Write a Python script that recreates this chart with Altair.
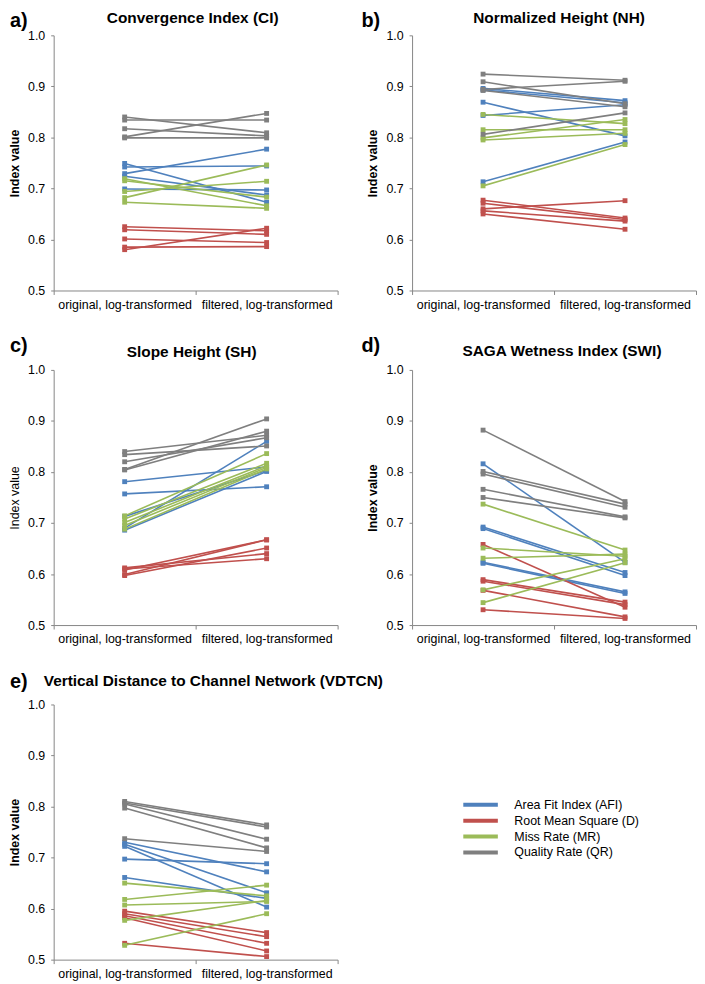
import altair as alt
import pandas as pd

STAGES = ["original, log-transformed", "filtered, log-transformed"]
SERIES = ["Area Fit Index (AFI)", "Root Mean Square (D)", "Miss Rate (MR)", "Quality Rate (QR)"]
COLORS = ["#4F81BD", "#C0504D", "#9BBB59", "#7F7F7F"]
Y_TICKS = [0.5, 0.6, 0.7, 0.8, 0.9, 1.0]

LETTERS = ["a)", "b)", "c)", "d)", "e)"]
TITLES = ["Convergence Index (CI)", "Normalized Height (NH)", "Slope Height (SH)",
          "SAGA Wetness Index (SWI)", "Vertical Distance to Channel Network (VDTCN)"]

# (original, filtered) pairs for each line
CI_AFI = [(0.749, 0.673), (0.742, 0.744), (0.729, 0.777), (0.724, 0.687), (0.699, 0.697)]
CI_D = [(0.625, 0.617), (0.619, 0.610), (0.601, 0.594), (0.585, 0.586), (0.580, 0.622)]
CI_MR = [(0.719, 0.666), (0.715, 0.683), (0.694, 0.714), (0.682, 0.746), (0.673, 0.661)]
CI_QR = [(0.840, 0.809), (0.834, 0.834), (0.817, 0.803), (0.801, 0.847), (0.799, 0.799)]

NH_AFI = [(0.896, 0.872), (0.893, 0.868), (0.869, 0.803), (0.843, 0.864), (0.713, 0.791)]
NH_D = [(0.677, 0.642), (0.671, 0.639), (0.660, 0.676), (0.656, 0.636), (0.650, 0.620)]
NH_MR = [(0.845, 0.827), (0.815, 0.815), (0.799, 0.835), (0.795, 0.808), (0.705, 0.786)]
NH_QR = [(0.924, 0.912), (0.909, 0.866), (0.894, 0.910), (0.892, 0.860), (0.806, 0.848)]

SH_AFI = [(0.781, 0.810), (0.757, 0.771), (0.713, 0.803), (0.690, 0.860), (0.686, 0.801)]
SH_D = [(0.612, 0.640), (0.610, 0.630), (0.608, 0.667), (0.599, 0.667), (0.597, 0.651)]
SH_MR = [(0.714, 0.836), (0.708, 0.817), (0.701, 0.812), (0.695, 0.809), (0.688, 0.806)]
SH_QR = [(0.840, 0.872), (0.834, 0.851), (0.820, 0.867), (0.805, 0.904), (0.804, 0.880)]

SWI_AFI = [(0.816, 0.623), (0.692, 0.603), (0.689, 0.597), (0.623, 0.565), (0.621, 0.562)]
SWI_D = [(0.658, 0.535), (0.589, 0.545), (0.586, 0.540), (0.568, 0.516), (0.530, 0.513)]
SWI_MR = [(0.737, 0.647), (0.651, 0.635), (0.631, 0.639), (0.569, 0.630), (0.544, 0.622)]
SWI_QR = [(0.882, 0.742), (0.801, 0.737), (0.796, 0.731), (0.766, 0.712), (0.750, 0.710)]

VD_AFI = [(0.730, 0.672), (0.726, 0.631), (0.722, 0.603), (0.697, 0.688), (0.661, 0.620)]
VD_D = [(0.595, 0.553), (0.590, 0.545), (0.586, 0.532), (0.582, 0.517), (0.532, 0.506)]
VD_MR = [(0.650, 0.625), (0.618, 0.646), (0.607, 0.614), (0.577, 0.616), (0.528, 0.590)]
VD_QR = [(0.810, 0.764), (0.807, 0.760), (0.805, 0.736), (0.797, 0.719), (0.737, 0.712)]

PANEL_DATA = [
    [CI_AFI, CI_D, CI_MR, CI_QR],
    [NH_AFI, NH_D, NH_MR, NH_QR],
    [SH_AFI, SH_D, SH_MR, SH_QR],
    [SWI_AFI, SWI_D, SWI_MR, SWI_QR],
    [VD_AFI, VD_D, VD_MR, VD_QR],
]

FONT = "Liberation Sans"
W, H = 286, 257

# per-panel layout tweaks (pixels relative to the plot's top-left corner)
TITLE_X = [140, 148, 139, 151, -10]
TITLE_Y = [-17, -17, -18, -19, -24]
TITLE_ALIGN = ["center", "center", "center", "center", "left"]
LETTER_X = [-44, -51, -44, -51, -44]
LETTER_Y = [-14, -14, -24, -24, -23]
YTITLE_BOLD = [True, True, False, True, True]


def make_df(groups):
    rows = []
    for s_name, pairs in zip(SERIES, groups):
        for i, (o, f) in enumerate(pairs):
            lid = f"{s_name}-{i}"
            rows.append({"series": s_name, "line": lid, "stage": STAGES[0], "value": o})
            rows.append({"series": s_name, "line": lid, "stage": STAGES[1], "value": f})
    return pd.DataFrame(rows)


def panel(k):
    df = make_df(PANEL_DATA[k])
    x = alt.X("stage:N", sort=STAGES,
              scale=alt.Scale(type="band", paddingInner=0, paddingOuter=0),
              axis=alt.Axis(title=None, labelAngle=0, tickBand="extent", tickSize=4,
                            labelPadding=4, labelFontSize=12.5, labelLimit=300))
    y = alt.Y("value:Q", scale=alt.Scale(domain=[0.5, 1.0], nice=False, zero=False),
              axis=alt.Axis(values=Y_TICKS, format=".1f", title="Index value",
                            titleFontSize=12.5,
                            titleFontWeight="bold" if YTITLE_BOLD[k] else "normal",
                            tickSize=3, labelPadding=6, labelFontSize=12.5, titlePadding=6))
    if k == 4:
        leg = alt.Legend(title=None, orient="none", legendX=422, legendY=93,
                         symbolType="M-2.9,0H2.9", symbolSize=144, symbolStrokeWidth=4,
                         labelFontSize=12.5, labelFont=FONT, labelColor="#000",
                         labelOffset=26, rowPadding=-3, padding=0)
    else:
        leg = None
    color_line = alt.Color("series:N", scale=alt.Scale(domain=SERIES, range=COLORS), legend=leg)
    color_pt = alt.Color("series:N", scale=alt.Scale(domain=SERIES, range=COLORS), legend=None)
    base = alt.Chart(df)
    lines = base.mark_line(strokeWidth=1.6).encode(x=x, y=y, color=color_line, detail="line:N")
    pts = base.mark_square(size=24, opacity=1).encode(x=x, y=y, color=color_pt)
    letter = alt.Chart(pd.DataFrame({"t": [LETTERS[k]]})).mark_text(
        font=FONT, fontSize=20, fontWeight="bold", align="left", baseline="middle", color="#000"
    ).encode(text="t:N", x=alt.value(LETTER_X[k]), y=alt.value(LETTER_Y[k]))
    title = alt.Chart(pd.DataFrame({"t": [TITLES[k]]})).mark_text(
        font=FONT, fontSize=15.5, fontWeight="bold", align=TITLE_ALIGN[k], baseline="middle",
        color="#000"
    ).encode(text="t:N", x=alt.value(TITLE_X[k]), y=alt.value(TITLE_Y[k]))
    return alt.layer(lines, pts, letter, title).properties(width=W, height=H)


chart = alt.concat(
    *[panel(k) for k in range(5)], columns=2,
    spacing={"row": 80, "column": 75}, bounds="flush",
).resolve_legend(color="independent").properties(padding=0).configure_view(
    stroke=None
).configure_axis(
    grid=False, domainColor="#868686", tickColor="#868686", domainWidth=1, tickWidth=1,
    labelFont=FONT, titleFont=FONT, labelColor="#000", titleColor="#000",
)

chart.save("out.html", embed_options={"renderer": "svg", "actions": False})
